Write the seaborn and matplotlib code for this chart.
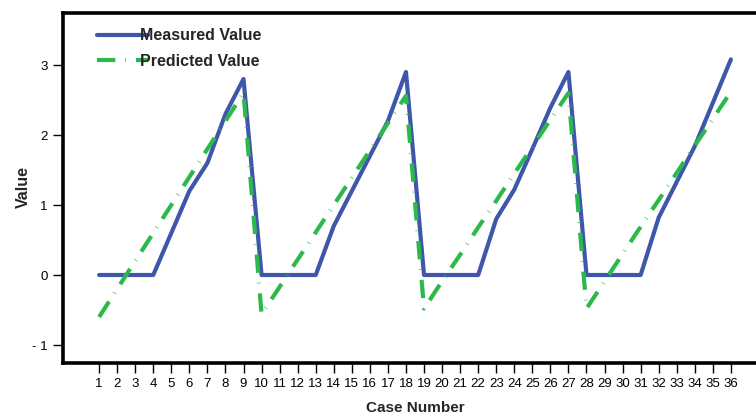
import matplotlib
matplotlib.use("Agg")
import matplotlib.pyplot as plt
import seaborn as sns
import pandas as pd

# Case numbers and the two series
cases = list(range(1, 37))
measured = [0, 0, 0, 0, 0.6, 1.2, 1.6, 2.3, 2.8,
            0, 0, 0, 0, 0.7, 1.2, 1.7, 2.2, 2.9,
            0, 0, 0, 0, 0.8, 1.22, 1.8, 2.39, 2.9,
            0, 0, 0, 0, 0.82, 1.33, 1.84, 2.46, 3.08]
predicted = [-0.6, -0.2, 0.2, 0.6, 1.0, 1.4, 1.8, 2.2, 2.6,
             -0.56, -0.17, 0.22, 0.61, 1.0, 1.39, 1.78, 2.17, 2.56,
             -0.48, -0.09, 0.29, 0.68, 1.06, 1.45, 1.83, 2.22, 2.6,
             -0.48, -0.09, 0.3, 0.69, 1.07, 1.46, 1.85, 2.23, 2.62]
y_ticks = [-1, 0, 1, 2, 3]
y_tick_labels = ["- 1", "0", "1", "2", "3"]

df = pd.DataFrame({"case": cases, "measured": measured, "predicted": predicted})

sns.set_theme(style="white")
plt.rcParams["font.family"] = ["Liberation Sans", "DejaVu Sans"]

fig = plt.figure(figsize=(7.56, 4.18), dpi=100)
ax = fig.add_axes([63 / 756, 55.5 / 418, 704 / 756, 350 / 418])

blue = "#3f57ab"
green = "#2cb94c"

sns.lineplot(data=df, x="case", y="measured", ax=ax, color=blue,
             linewidth=3.0, label="Measured Value")
sns.lineplot(data=df, x="case", y="predicted", ax=ax, color=green,
             linewidth=3.0, label="Predicted Value")
pred_line = ax.lines[1]
pred_line.set_dashes((4.4, 2.4, 0.15, 2.4))
pred_line.set_dash_capstyle("butt")

ax.set_xlim(-1, 38)
ax.set_ylim(-1.25, 3.75)
ax.set_xticks(cases)
ax.set_xticklabels([str(c) for c in cases], fontsize=9.5)
ax.set_yticks(y_ticks)
ax.set_yticklabels(y_tick_labels, fontsize=9.5)
ax.tick_params(axis="both", direction="out", length=7, width=1.0,
               color="black", labelcolor="black", pad=4,
               bottom=True, left=True)

for side in ("left", "top", "bottom"):
    ax.spines[side].set_visible(True)
    ax.spines[side].set_color("black")
    ax.spines[side].set_linewidth(2.6)
ax.spines["right"].set_visible(False)

ax.set_xlabel("Case Number", fontsize=11, fontweight="bold", labelpad=8)
ax.set_ylabel("Value", fontsize=11.5, fontweight="bold", labelpad=1)

leg = ax.legend(loc="upper left", bbox_to_anchor=(0.048, 0.955),
                frameon=False, fontsize=11.5, handlelength=3.2,
                handletextpad=-0.5, labelspacing=0.65,
                borderpad=0, borderaxespad=0)
for t in leg.get_texts():
    t.set_fontweight("bold")

fig.savefig("out.png", dpi=100)
